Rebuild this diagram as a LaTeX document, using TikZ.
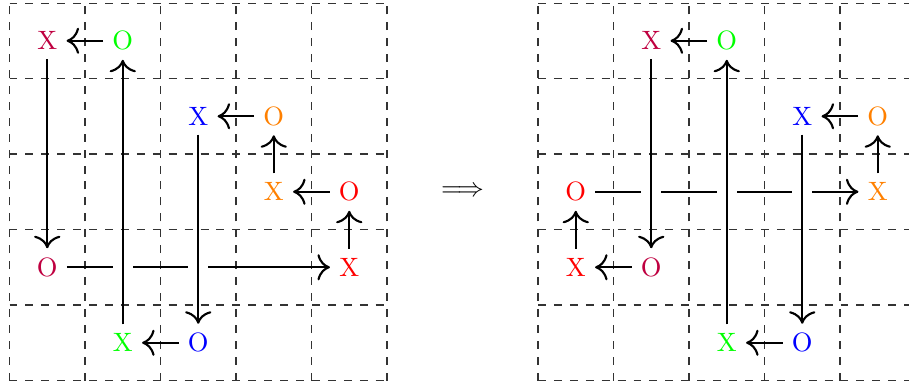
\documentclass[tikz,border=0pt]{standalone}
\usetikzlibrary{arrows.meta}
\begin{document}
\begin{tikzpicture}[
  conn/.style={-{To[scale=1.4]}, thick},
  gridline/.style={dashed, thin, black!80},
  gapbox/.style={fill=white, draw=none, minimum width=0.26cm, minimum height=0.1cm, inner sep=0pt, outer sep=0pt}
]
\clip (-0.126,-0.04) rectangle (11.914,5.04);
\draw[gridline] (0,0) grid (5,5);
\draw[gridline] (7,0) grid (12,5);

% left configuration
\node[text=purple] (a1) at (0.5,4.5) {X};
\node[text=green] (a2) at (1.5,4.5) {O};
\node[text=blue] (a3) at (2.5,3.5) {X};
\node[text=orange] (a4) at (3.5,3.5) {O};
\node[text=orange] (a5) at (3.5,2.5) {X};
\node[text=red] (a6) at (4.5,2.5) {O};
\node[text=purple] (a7) at (0.5,1.5) {O};
\node[text=red] (a8) at (4.5,1.5) {X};
\node[text=green] (a9) at (1.5,0.5) {X};
\node[text=blue] (a10) at (2.5,0.5) {O};

\draw[conn] (a7) -- (a8);
\node[gapbox] (ga1) at (a9 |- a7) {};
\node[gapbox] (ga2) at (a3 |- a7) {};
\draw[conn] (a2) -- (a1);
\draw[conn] (a4) -- (a3);
\draw[conn] (a6) -- (a5);
\draw[conn] (a5) -- (a4);
\draw[conn] (a8) -- (a6);
\draw[conn] (a10) -- (a9);
\draw[conn] (a1) -- (a7);
\draw[conn] (a3) -- (a10);
\draw[conn] (a9) -- (a2);

\node (impl) at (6,2.5) {$\Longrightarrow$};

% right configuration
\node[text=purple] (b1) at (8.5,4.5) {X};
\node[text=green] (b2) at (9.5,4.5) {O};
\node[text=blue] (b3) at (10.5,3.5) {X};
\node[text=orange] (b4) at (11.5,3.5) {O};
\node[text=red] (b5) at (7.5,2.5) {O};
\node[text=orange] (b6) at (11.5,2.5) {X};
\node[text=red] (b7) at (7.5,1.5) {X};
\node[text=purple] (b8) at (8.5,1.5) {O};
\node[text=green] (b9) at (9.5,0.5) {X};
\node[text=blue] (b10) at (10.5,0.5) {O};

\draw[conn] (b5) -- (b6);
\node[gapbox] (gb1) at (b1 |- b5) {};
\node[gapbox] (gb2) at (b2 |- b5) {};
\node[gapbox] (gb3) at (b3 |- b5) {};
\draw[conn] (b2) -- (b1);
\draw[conn] (b4) -- (b3);
\draw[conn] (b6) -- (b4);
\draw[conn] (b8) -- (b7);
\draw[conn] (b7) -- (b5);
\draw[conn] (b10) -- (b9);
\draw[conn] (b1) -- (b8);
\draw[conn] (b9) -- (b2);
\draw[conn] (b3) -- (b10);
\end{tikzpicture}
\end{document}
